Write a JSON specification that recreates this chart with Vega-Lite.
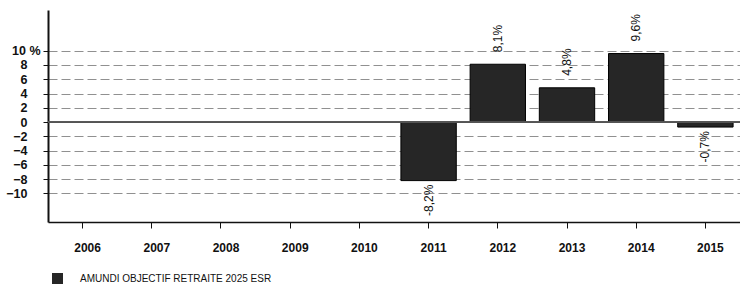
{
  "$schema": "https://vega.github.io/schema/vega-lite/v6.json",
  "width": 692,
  "height": 212,
  "autosize": {"type": "none"},
  "padding": {"left": 48, "top": 10, "right": 0, "bottom": 69},
  "background": "white",
  "config": {
    "view": {"stroke": null},
    "font": "Liberation Sans"
  },
  "data": {
    "values": [
      {"year": "2011", "value": -8.2, "label": "-8,2%", "series": "AMUNDI OBJECTIF RETRAITE 2025 ESR"},
      {"year": "2012", "value": 8.1, "label": "8,1%", "series": "AMUNDI OBJECTIF RETRAITE 2025 ESR"},
      {"year": "2013", "value": 4.8, "label": "4,8%", "series": "AMUNDI OBJECTIF RETRAITE 2025 ESR"},
      {"year": "2014", "value": 9.6, "label": "9,6%", "series": "AMUNDI OBJECTIF RETRAITE 2025 ESR"},
      {"year": "2015", "value": -0.7, "label": "-0,7%", "series": "AMUNDI OBJECTIF RETRAITE 2025 ESR"}
    ]
  },
  "encoding": {
    "x": {
      "field": "year",
      "type": "ordinal",
      "scale": {"domain": ["2006", "2007", "2008", "2009", "2010", "2011", "2012", "2013", "2014", "2015"], "paddingInner": 0.2, "paddingOuter": 0.1},
      "axis": {
        "title": null,
        "labelAngle": 0,
        "labelFont": "Liberation Sans",
        "labelFontSize": 12,
        "labelFontWeight": "bold",
        "labelColor": "#111",
        "labelPadding": 14,
        "labelOffset": 5,
        "tickSize": 6,
        "tickColor": "#111",
        "domainColor": "#111",
        "domainWidth": 1.5,
        "grid": false
      }
    },
    "y": {
      "field": "value",
      "type": "quantitative",
      "scale": {"domain": [-14, 15.7], "nice": false, "zero": false},
      "axis": {
        "title": null,
        "values": [-10, -8, -6, -4, -2, 0, 2, 4, 6, 8, 10],
        "tickCount": 30,
        "labelOverlap": false,
        "labelExpr": "datum.value == 10 ? '10 %' : datum.label",
        "labelFont": "Liberation Sans",
        "labelFontSize": 12.5,
        "labelFontWeight": "bold",
        "labelColor": "#111",
        "labelPadding": {"condition": {"test": "datum.value == 10", "value": 3}, "value": 16},
        "tickSize": 5,
        "tickColor": "#111",
        "domainColor": "#111",
        "domainWidth": 2,
        "grid": true,
        "gridColor": "#909090",
        "gridDash": [9, 4],
        "gridWidth": 1
      }
    }
  },
  "layer": [
    {
      "mark": {"type": "bar", "stroke": "#000", "strokeWidth": 1},
      "encoding": {
        "y2": {"datum": 0},
        "color": {
          "field": "series",
          "type": "nominal",
          "scale": {"range": ["#262626"]},
          "legend": {
            "title": null,
            "orient": "none",
            "legendX": 4,
            "legendY": 263,
            "symbolType": "square",
            "symbolSize": 121,
            "symbolFillColor": "#111",
            "symbolStrokeWidth": 0,
            "labelFont": "Liberation Sans",
            "labelFontSize": 10,
            "labelColor": "#111",
            "labelOffset": 17,
            "labelLimit": 0,
            "padding": 0
          }
        }
      }
    },
    {
      "mark": {"type": "rule", "color": "#555", "strokeWidth": 1.2},
      "encoding": {"y": {"datum": 0}, "x": {"value": 0}, "x2": {"value": 692}}
    },
    {
      "transform": [{"filter": "datum.value > 0"}],
      "mark": {"type": "text", "angle": 270, "align": "left", "baseline": "middle", "dx": 12, "font": "Liberation Sans", "fontSize": 12, "color": "#111"},
      "encoding": {
        "text": {"field": "label"}
      }
    },
    {
      "transform": [{"filter": "datum.value < 0"}],
      "mark": {"type": "text", "angle": 270, "align": "right", "baseline": "middle", "dx": -4, "font": "Liberation Sans", "fontSize": 12, "color": "#111"},
      "encoding": {
        "text": {"field": "label"}
      }
    }
  ]
}
